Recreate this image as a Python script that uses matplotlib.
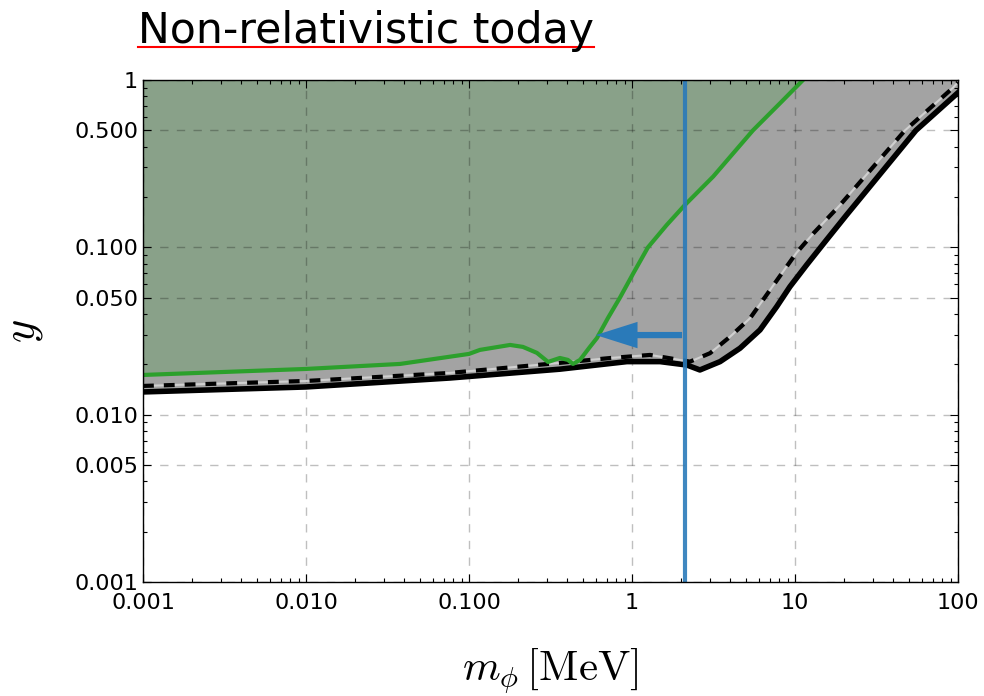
import numpy as np
import matplotlib
matplotlib.use("Agg")
import matplotlib.pyplot as plt
from matplotlib.lines import Line2D
from matplotlib.patches import FancyArrowPatch

plt.rcParams['mathtext.fontset'] = 'cm'

# lower bound (solid black)
m_solid = [0.001, 0.01, 0.0763, 0.361, 0.931, 1.486, 2.17, 2.61, 3.47, 4.60, 6.10, 7.72, 9.31, 11.8,
           15.6, 20.7, 55.2, 100]
y_solid = [0.01367, 0.01464, 0.01656, 0.0187, 0.02075, 0.02075, 0.0198, 0.0185, 0.02075, 0.02495, 0.0321,
           0.0442, 0.0582, 0.0786, 0.1107, 0.156, 0.5, 0.84]

# dashed curve
m_dash = [0.001, 0.01, 0.0763, 0.361, 0.733, 1.29, 1.97, 2.27, 3.01, 3.99, 5.30, 7.03, 8.89, 10.2,
          12.95, 18.9, 47.3, 93, 100]
y_dash = [0.01485, 0.0159, 0.01776, 0.0204, 0.0218, 0.02275, 0.02123, 0.02075, 0.0233, 0.0292, 0.0377,
          0.0556, 0.0768, 0.0926, 0.121, 0.179, 0.5, 0.897, 0.97]

# green curve
m_green = [0.001, 0.01, 0.0378, 0.1, 0.1167, 0.1787, 0.2142, 0.261, 0.3055, 0.361, 0.404, 0.4345,
           0.48, 0.552, 0.61, 0.713, 0.843, 1.019, 1.253, 1.633, 2.11, 3.15, 5.52, 8.09, 11.2, 12.5]
y_green = [0.01727, 0.01876, 0.0201, 0.02307, 0.02438, 0.0261, 0.02541, 0.0234, 0.02066, 0.02182, 0.02125,
           0.0201, 0.02125, 0.02541, 0.02873, 0.0379, 0.05, 0.070, 0.1, 0.136, 0.179, 0.265, 0.5, 0.726,
           1.0, 1.15]

m_line = 2.11
arrow_tip = 0.577
arrow_y = 0.0299

yticks = [0.001, 0.005, 0.01, 0.05, 0.1, 0.5, 1]
ylabels = ['0.001', '0.005', '0.010', '0.050', '0.100', '0.500', '1']
xticks = [0.001, 0.01, 0.1, 1, 10, 100]
xlabels = ['0.001', '0.010', '0.100', '1', '10', '100']

fig = plt.figure(figsize=(9.84, 6.96), dpi=100)
ax = fig.add_axes([143/984, 1-582/696, 815/984, 502/696])

ax.fill_between(m_solid, y_solid, 2, color='#a3a3a3', lw=0, zorder=1)
ax.fill_between(m_green, y_green, 2, color='#89a189', lw=0, zorder=1.5)

ax.plot(m_solid, y_solid, color='black', lw=4, solid_joinstyle='round', zorder=4)
ax.plot(m_dash, y_dash, color='#d0d0d0', lw=1.5, zorder=4)
ax.plot(m_dash, y_dash, color='black', lw=3, linestyle=(0, (2.6, 2.4)), zorder=4.5)
ax.plot(m_green, y_green, color='#2ca02c', lw=3, solid_joinstyle='round', zorder=5)

ax.axvline(m_line, color='#2a7ab9', lw=3, alpha=0.9, zorder=6)
arr = FancyArrowPatch((m_line, arrow_y), (arrow_tip, arrow_y),
                      arrowstyle='simple,head_length=3.0,head_width=1.9,tail_width=0.45',
                      mutation_scale=10, color='#2a7ab9', lw=0, zorder=6)
ax.add_patch(arr)

ax.set_xscale('log')
ax.set_yscale('log')
ax.set_xlim(0.001, 100)
ax.set_ylim(0.001, 1)
ax.set_xticks(xticks, xlabels)
ax.set_yticks(yticks, ylabels)
ax.yaxis.set_minor_locator(matplotlib.ticker.FixedLocator(
    [k * 10.0**e for e in range(-3, 0) for k in (2, 3, 4, 6, 7, 8, 9)]))
ax.xaxis.set_minor_locator(matplotlib.ticker.LogLocator(subs=np.arange(2, 10)))
ax.xaxis.set_minor_formatter(matplotlib.ticker.NullFormatter())
ax.yaxis.set_minor_formatter(matplotlib.ticker.NullFormatter())
ax.tick_params(which='both', direction='in', top=True, right=True, labelsize=16, width=0.8)
ax.tick_params(axis='x', which='major', pad=8)
ax.tick_params(which='major', length=6)
ax.tick_params(which='minor', length=3)
ax.grid(True, which='major', color='black', alpha=0.25, linestyle=(0, (6, 6)), lw=1, zorder=2)
ax.set_axisbelow(False)
for s in ax.spines.values():
    s.set_linewidth(1)
    s.set_zorder(7)

ax.set_xlabel(r'$m_\phi\,[\mathrm{MeV}]$', fontsize=31)
ax.xaxis.set_label_coords(0.5, -0.128)
ax.xaxis.label.set_va('top')
ax.set_ylabel(r'$y$', fontsize=32)
ax.yaxis.set_label_coords(-0.12, 0.5)

t = fig.text(138/984, 1-43/696, 'Non-relativistic today', fontsize=30.7, va='baseline', ha='left')
fig.canvas.draw()
bb = t.get_window_extent()
W = fig.bbox.width
fig.add_artist(Line2D([bb.x0/W, bb.x1/W], [1-47/696, 1-47/696], transform=fig.transFigure, color='red', lw=1.5))

fig.savefig('out.png', dpi=100)
